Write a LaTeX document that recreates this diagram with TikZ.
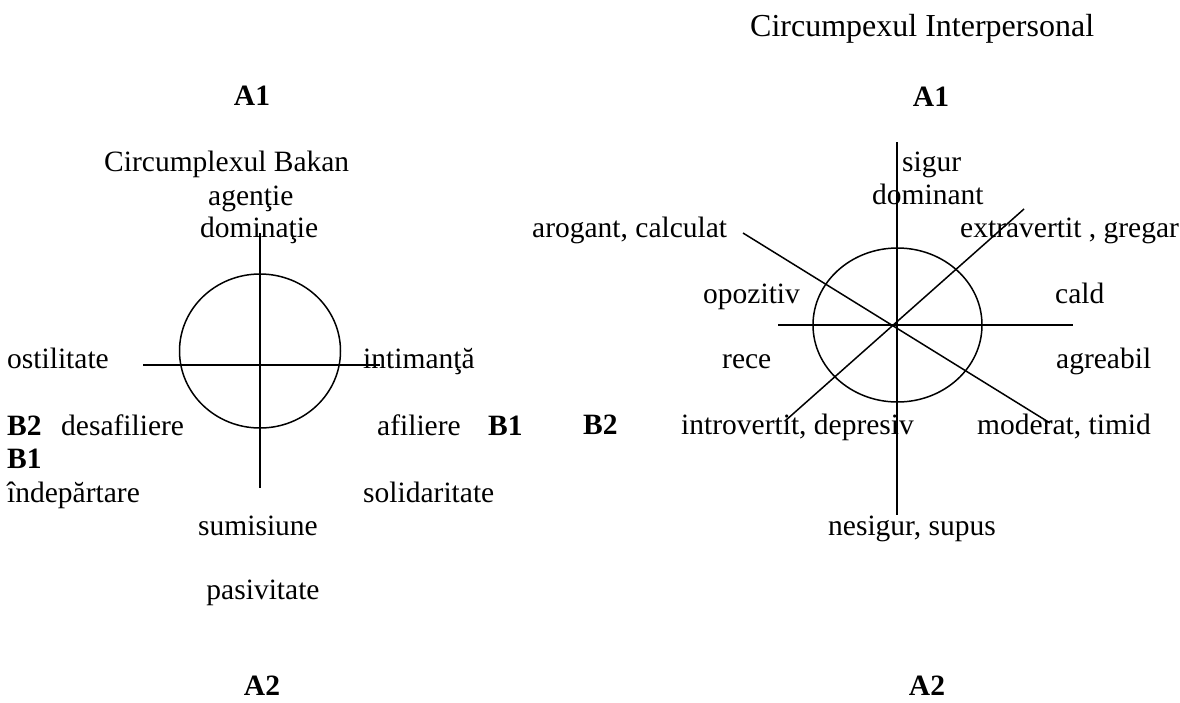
\documentclass[tikz,border=0pt]{standalone}
\usepackage{fontspec}
\setmainfont{Liberation Serif}
\usetikzlibrary{shapes.geometric}
\begin{document}
\begin{tikzpicture}[x=1pt,y=-1pt,
  lbl/.style={inner sep=0pt, anchor=base west, font=\fontsize{29.5}{35}\selectfont},
  lblc/.style={lbl, anchor=base},
  bold/.style={font=\fontsize{29.5}{35}\selectfont\bfseries},
  heading/.style={font=\fontsize{32}{38}\selectfont},
  axis/.style={line width=1.5pt, black},
  ring/.style={ellipse, draw, line width=1.5pt, inner sep=0pt}]
\useasboundingbox (0,0) rectangle (1180,702);

% ---------- left: Bakan circumplex ----------
\node[lblc, bold] (a1l) at (252,105) {A1};
\node[lbl] (bakan) at (104,171) {Circumplexul Bakan};
\node[lbl] (agentie) at (208,205) {agenţie};
\node[lbl] (dominatie) at (200,237) {dominaţie};
\node[lbl] (ostilitate) at (7,368) {ostilitate};
\node[lbl] (intimanta) at (363,368) {intimanţă};
\node[lbl, bold] (b2l) at (7,435) {B2};
\node[lbl] (desafiliere) at (61,435) {desafiliere};
\node[lbl] (afiliere) at (377,435) {afiliere};
\node[lbl, bold] (b1r) at (488,435) {B1};
\node[lbl, bold] (b1l) at (7,468) {B1};
\node[lbl] (indepartare) at (7,502) {îndepărtare};
\node[lbl] (solidaritate) at (363,502) {solidaritate};
\node[lblc] (sumisiune) at (258,535) {sumisiune};
\node[lblc] (pasivitate) at (263,599) {pasivitate};
\node[lblc, bold] (a2l) at (262,695) {A2};

\node[ring, minimum width=161pt, minimum height=154pt] (cl) at (260,351) {};
\coordinate (lt) at (260,233);
\coordinate (lb) at (260,488);
\coordinate (ll) at (143,365);
\coordinate (lr) at (380,365);
\draw[axis] (lt) -- (lb);
\draw[axis] (ll) -- (lr);

% ---------- right: interpersonal circumplex ----------
\node[lbl, heading] (titlu) at (750,36) {Circumpexul Interpersonal};
\node[lblc, bold] (a1r) at (931,106) {A1};
\node[lbl] (sigur) at (902,171) {sigur};
\node[lbl] (dominant) at (872,204) {dominant};
\node[lbl] (arogant) at (532,237) {arogant, calculat};
\node[lbl] (extravertit) at (960,237) {extravertit , gregar};
\node[lbl] (opozitiv) at (703,303) {opozitiv};
\node[lbl] (cald) at (1055,303) {cald};
\node[lbl] (rece) at (722,368) {rece};
\node[lbl] (agreabil) at (1056,368) {agreabil};
\node[lbl, bold] (b2r) at (583,434) {B2};
\node[lbl] (introvertit) at (681,434) {introvertit, depresiv};
\node[lbl] (moderat) at (977,434) {moderat, timid};
\node[lbl] (nesigur) at (828,535) {nesigur, supus};
\node[lblc, bold] (a2r) at (927,695) {A2};

\node[ring, minimum width=169pt, minimum height=154pt] (cr) at (897.5,325) {};
\coordinate (rt) at (897,142);
\coordinate (rb) at (897,515);
\coordinate (rl) at (778,325);
\coordinate (rr) at (1073,325);
\coordinate (rnw) at (743,233);
\coordinate (rse) at (1050,423);
\coordinate (rsw) at (785,421);
\coordinate (rne) at (1024,209);
\draw[axis] (rt) -- (rb);
\draw[axis] (rl) -- (rr);
\draw[axis] (rnw) -- (rse);
\draw[axis] (rsw) -- (rne);
\end{tikzpicture}
\end{document}
